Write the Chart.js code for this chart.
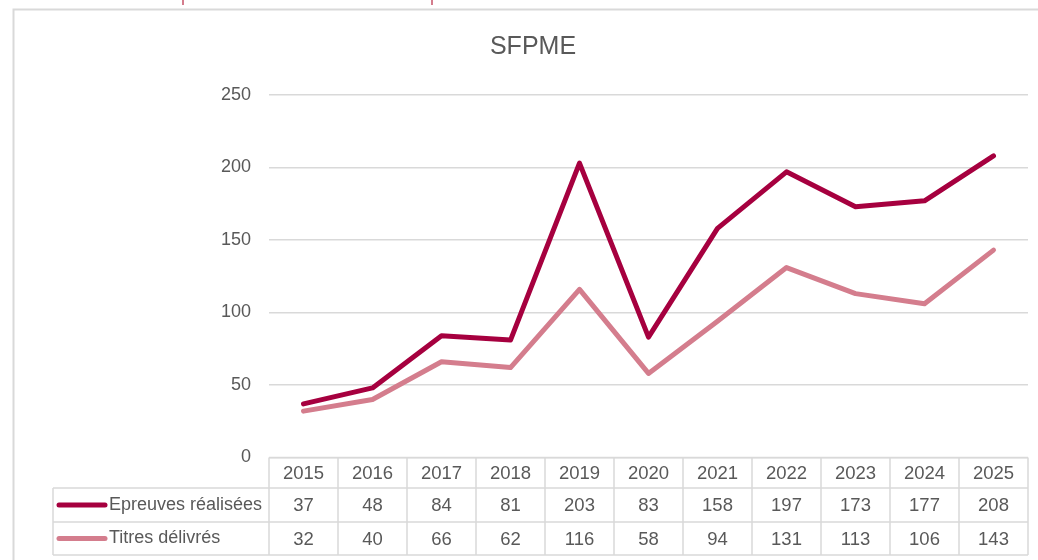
<!DOCTYPE html>
<html>
<head>
<meta charset="utf-8">
<title>SFPME</title>
<script src="https://cdn.jsdelivr.net/npm/chart.js@4"></script>
<style>
  html, body { margin: 0; padding: 0; background: #fff; }
  #wrap { width: 1038px; height: 560px; position: relative; }
</style>
</head>
<body>
<div id="wrap"><canvas id="sfpme" width="1038" height="560"></canvas></div>
<script>
/* ── DATA ─────────────────────────────────────────────────────── */
const years    = ['2015', '2016', '2017', '2018', '2019', '2020', '2021', '2022', '2023', '2024', '2025'];
const epreuves = [37, 48, 84, 81, 203, 83, 158, 197, 173, 177, 208];
const titres   = [32, 40, 66, 62, 116, 58, 94, 131, 113, 106, 143];
const seriesNames = ['Epreuves réalisées', 'Titres délivrés'];
const yMin = 0, yMax = 250, yStep = 50;

const DARK  = '#a6003f';
const LIGHT = '#d47d8d';
const GRID  = '#d9d9d9';
const TEXT  = '#595959';
const FONT  = "'Liberation Sans', Arial, sans-serif";

/* ── FRAME, TITLE AND DATA TABLE ─────────────────────────────────── */
const tablePlugin = {
  id: 'excelTable',
  afterDraw(chart) {
    const { ctx } = chart;
    const x = chart.scales.x;
    const area = chart.chartArea;
    ctx.save();

    // outer chart frame
    ctx.strokeStyle = GRID;
    ctx.lineWidth = 2;
    ctx.beginPath();
    ctx.moveTo(13.5, chart.height);
    ctx.lineTo(13.5, 9.5);
    ctx.lineTo(chart.width, 9.5);
    ctx.stroke();

    // cut-off text from above the frame
    ctx.fillStyle = LIGHT;
    ctx.fillRect(182, 0, 2, 5);
    ctx.fillRect(431, 0, 2, 5);

    // title
    ctx.fillStyle = TEXT;
    ctx.font = '25px ' + FONT;
    ctx.textAlign = 'center';
    ctx.textBaseline = 'middle';
    ctx.fillText('SFPME', 533, 47);

    // table grid
    const half = (x.getPixelForValue(1) - x.getPixelForValue(0)) / 2;
    const rowTop = [area.bottom, 488, 522];
    const rowBottom = 555;
    const labelLeft = 53;

    ctx.strokeStyle = GRID;
    ctx.lineWidth = 1.5;
    ctx.beginPath();
    ctx.moveTo(area.left, rowTop[0]);
    ctx.lineTo(area.right, rowTop[0]);
    [rowTop[1], rowTop[2], rowBottom].forEach(y => {
      ctx.moveTo(labelLeft, y);
      ctx.lineTo(area.right, y);
    });
    ctx.moveTo(labelLeft, rowTop[1]);
    ctx.lineTo(labelLeft, rowBottom);
    years.forEach((_, i) => {
      const cx = x.getPixelForValue(i);
      ctx.moveTo(cx - half, rowTop[0]);
      ctx.lineTo(cx - half, rowBottom);
      if (i === years.length - 1) {
        ctx.moveTo(cx + half, rowTop[0]);
        ctx.lineTo(cx + half, rowBottom);
      }
    });
    ctx.stroke();

    // cell text
    const rows = [years, epreuves, titres];
    const mid = [
      (rowTop[0] + rowTop[1]) / 2,
      (rowTop[1] + rowTop[2]) / 2,
      (rowTop[2] + rowBottom) / 2
    ];
    ctx.fillStyle = TEXT;
    ctx.font = '18.5px ' + FONT;
    ctx.textAlign = 'center';
    rows.forEach((vals, r) => {
      vals.forEach((v, i) => ctx.fillText(String(v), x.getPixelForValue(i), mid[r] + 1));
    });

    // legend keys + series names
    chart.data.datasets.forEach((ds, k) => {
      const y = mid[k + 1];
      ctx.strokeStyle = ds.borderColor;
      ctx.lineWidth = 5;
      ctx.lineCap = 'round';
      ctx.beginPath();
      ctx.moveTo(59, y);
      ctx.lineTo(105, y);
      ctx.stroke();
      ctx.fillStyle = TEXT;
      ctx.font = '18px ' + FONT;
      ctx.textAlign = 'left';
      ctx.fillText(seriesNames[k], 109, y);
    });

    ctx.restore();
  }
};

/* ── LINE CHART ─────────────────────────────────────────────────── */
new Chart(document.getElementById('sfpme'), {
  type: 'line',
  data: {
    labels: years,
    datasets: [
      {
        label: seriesNames[0],
        data: epreuves,
        borderColor: DARK,
        borderWidth: 5,
        pointRadius: 0,
        tension: 0,
        borderJoinStyle: 'round',
        borderCapStyle: 'round'
      },
      {
        label: seriesNames[1],
        data: titres,
        borderColor: LIGHT,
        borderWidth: 5,
        pointRadius: 0,
        tension: 0,
        borderJoinStyle: 'round',
        borderCapStyle: 'round'
      }
    ]
  },
  options: {
    responsive: false,
    animation: false,
    layout: { padding: { top: 95, right: 10, bottom: 102.5, left: 0 } },
    plugins: {
      legend: { display: false },
      title: { display: false },
      tooltip: { enabled: false }
    },
    scales: {
      x: { display: false, offset: true },
      y: {
        min: yMin,
        max: yMax,
        afterFit: s => { s.width = 269; },
        border: { display: false },
        grid: { color: GRID, lineWidth: 1.5, drawTicks: false },
        ticks: {
          stepSize: yStep,
          padding: 18,
          color: TEXT,
          font: { family: FONT, size: 18 }
        }
      }
    }
  },
  plugins: [tablePlugin]
});
</script>
</body>
</html>
